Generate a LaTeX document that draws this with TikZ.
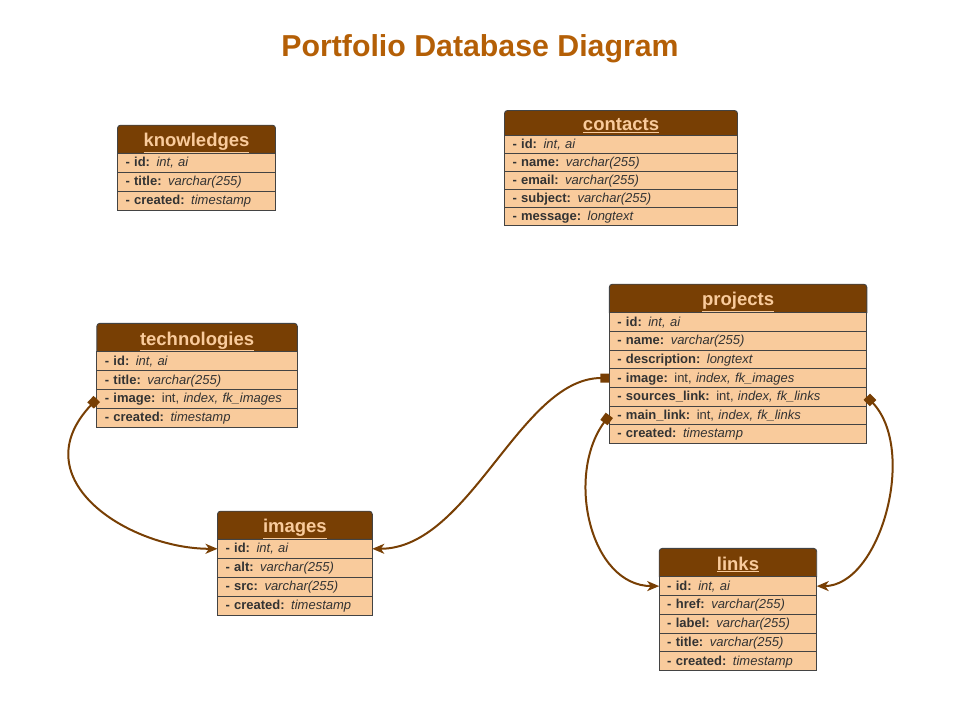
\documentclass[tikz,border=0pt]{standalone}
\usepackage{fontspec}
\setmainfont{Liberation Sans}
\usetikzlibrary{arrows.meta,backgrounds}
\definecolor{hdrc}{HTML}{783F04}
\definecolor{peach}{HTML}{F9CB9C}
\definecolor{bordc}{HTML}{434343}
\definecolor{txtc}{HTML}{333333}
\definecolor{titlec}{HTML}{B45F06}
\newcommand\hdrbox[1]{%
  \begin{pgfonlayer}{background}
    \filldraw[hdrpath] (#1.south west) -- ([yshift=-3pt]#1.north west)
      arc[start angle=180,end angle=90,radius=3pt] -- ([xshift=-3pt]#1.north east)
      arc[start angle=90,end angle=0,radius=3pt] -- (#1.south east) -- cycle;
  \end{pgfonlayer}}
\tikzset{
  hdrpath/.style={fill=hdrc,draw=bordc,line width=0.9pt},
  hdr/.style n args={2}{anchor=north west,inner sep=0pt,outer sep=0pt,
    minimum width=#1,minimum height=#2,text=peach,
    font=\bfseries\fontsize{18.5}{21}\selectfont,text height=15.5pt,text depth=0.5pt},
  rowbox/.style n args={2}{anchor=north west,inner xsep=8pt,inner ysep=0pt,outer sep=0pt,
    text width=#1,minimum height=#2,fill=peach,draw=bordc,line width=0.9pt,
    text=txtc,align=left,font=\fontsize{13}{15}\selectfont,text height=10pt,text depth=2pt},
  fk/.style={draw=hdrc,line width=2pt,
    {Square[length=9pt,width=9pt]}-{Stealth[length=12pt,width=10pt,inset=3.5pt]}},
  maintitle/.style={text=titlec,font=\bfseries\fontsize{30.3}{34}\selectfont,inner sep=0pt,anchor=base}
}
\begin{document}
\begin{tikzpicture}[x=1pt,y=1pt]
\useasboundingbox (0,0) rectangle (960,-720);
\node[maintitle] (title) at (480,-56.5) {Portfolio Database Diagram};

% knowledges
\node[hdr={158pt}{28.1pt}] (k-h) at (117.5,-125.2) {\underline{knowledges}};
\hdrbox{k-h}
\node[rowbox={142pt}{18.9pt}] (k1) at (117.5,-153.3) {\textbf{- id:} \textit{int, ai}};
\node[rowbox={142pt}{18.9pt}] (k2) at (117.5,-172.2) {\textbf{- title:} \textit{varchar(255)}};
\node[rowbox={142pt}{18.9pt}] (k3) at (117.5,-191.1) {\textbf{- created:} \textit{timestamp}};

% contacts
\node[hdr={233pt}{25.2pt}] (c-h) at (504.5,-110.5) {\underline{contacts}};
\hdrbox{c-h}
\node[rowbox={217pt}{17.86pt}] (c1) at (504.5,-135.7) {\textbf{- id:} \textit{int, ai}};
\node[rowbox={217pt}{17.86pt}] (c2) at (504.5,-153.56) {\textbf{- name:} \textit{varchar(255)}};
\node[rowbox={217pt}{17.86pt}] (c3) at (504.5,-171.42) {\textbf{- email:} \textit{varchar(255)}};
\node[rowbox={217pt}{17.86pt}] (c4) at (504.5,-189.28) {\textbf{- subject:} \textit{varchar(255)}};
\node[rowbox={217pt}{17.86pt}] (c5) at (504.5,-207.14) {\textbf{- message:} \textit{longtext}};

% technologies
\node[hdr={200.5pt}{28.4pt}] (t-h) at (96.8,-323.3) {\underline{technologies}};
\hdrbox{t-h}
\node[rowbox={184.5pt}{18.9pt}] (t1) at (96.8,-351.7) {\textbf{- id:} \textit{int, ai}};
\node[rowbox={184.5pt}{18.9pt}] (t2) at (96.8,-370.6) {\textbf{- title:} \textit{varchar(255)}};
\node[rowbox={184.5pt}{18.9pt}] (t3) at (96.8,-389.5) {\textbf{- image:} int, \textit{index, fk\_images}};
\node[rowbox={184.5pt}{18.9pt}] (t4) at (96.8,-408.4) {\textbf{- created:} \textit{timestamp}};

% projects
\node[hdr={257.5pt}{28.5pt}] (p-h) at (609.3,-284.2) {\underline{projects}};
\hdrbox{p-h}
\node[rowbox={241.5pt}{18.66pt}] (p1) at (609.3,-312.7) {\textbf{- id:} \textit{int, ai}};
\node[rowbox={241.5pt}{18.66pt}] (p2) at (609.3,-331.36) {\textbf{- name:} \textit{varchar(255)}};
\node[rowbox={241.5pt}{18.66pt}] (p3) at (609.3,-350.02) {\textbf{- description:} \textit{longtext}};
\node[rowbox={241.5pt}{18.66pt}] (p4) at (609.3,-368.68) {\textbf{- image:} int, \textit{index, fk\_images}};
\node[rowbox={241.5pt}{18.66pt}] (p5) at (609.3,-387.34) {\textbf{- sources\_link:} int, \textit{index, fk\_links}};
\node[rowbox={241.5pt}{18.66pt}] (p6) at (609.3,-406.0) {\textbf{- main\_link:} int, \textit{index, fk\_links}};
\node[rowbox={241.5pt}{18.66pt}] (p7) at (609.3,-424.66) {\textbf{- created:} \textit{timestamp}};

% images
\node[hdr={154.8pt}{28.1pt}] (i-h) at (217.5,-511.2) {\underline{images}};
\hdrbox{i-h}
\node[rowbox={138.8pt}{18.93pt}] (i1) at (217.5,-539.3) {\textbf{- id:} \textit{int, ai}};
\node[rowbox={138.8pt}{18.93pt}] (i2) at (217.5,-558.23) {\textbf{- alt:} \textit{varchar(255)}};
\node[rowbox={138.8pt}{18.93pt}] (i3) at (217.5,-577.16) {\textbf{- src:} \textit{varchar(255)}};
\node[rowbox={138.8pt}{18.93pt}] (i4) at (217.5,-596.09) {\textbf{- created:} \textit{timestamp}};

% links
\node[hdr={157.5pt}{28.3pt}] (l-h) at (659.2,-548.4) {\underline{links}};
\hdrbox{l-h}
\node[rowbox={141.5pt}{18.8pt}] (l1) at (659.2,-576.7) {\textbf{- id:} \textit{int, ai}};
\node[rowbox={141.5pt}{18.8pt}] (l2) at (659.2,-595.5) {\textbf{- href:} \textit{varchar(255)}};
\node[rowbox={141.5pt}{18.8pt}] (l3) at (659.2,-614.3) {\textbf{- label:} \textit{varchar(255)}};
\node[rowbox={141.5pt}{18.8pt}] (l4) at (659.2,-633.1) {\textbf{- title:} \textit{varchar(255)}};
\node[rowbox={141.5pt}{18.8pt}] (l5) at (659.2,-651.9) {\textbf{- created:} \textit{timestamp}};

% connectors
\draw[fk] (t3.west) .. controls (20,-480) and (130,-549) .. (i1.west);
\draw[fk] (p4.west) .. controls (520,-378) and (470,-549) .. (i1.east);
\draw[fk] (p6.west) .. controls (565,-475) and (590,-586) .. (l1.west);
\draw[fk] (p5.east) .. controls (918,-450) and (880,-586) .. (l1.east);
\end{tikzpicture}
\end{document}
